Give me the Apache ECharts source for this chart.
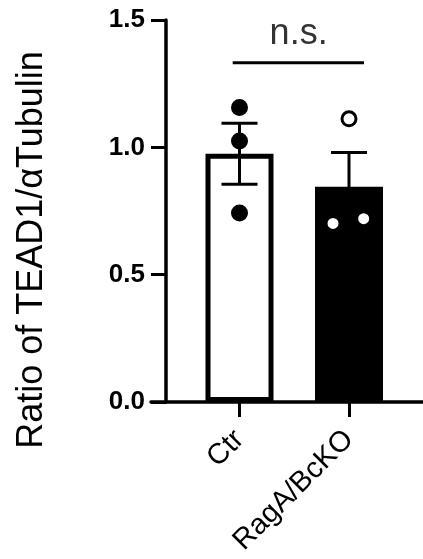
<!DOCTYPE html>
<html>
<head>
<meta charset="utf-8">
<script src="https://cdn.jsdelivr.net/npm/echarts@6/dist/echarts.min.js"></script>
<style>html,body{margin:0;padding:0;background:#fff}#c{width:423px;height:559px}</style>
</head>
<body>
<div id="c"></div>
<script>
// ---- data ----
const categories = ['Ctr', 'RagA/BcKO'];
const barMeans = [0.975, 0.845];
const barSems = [0.12, 0.135];
const ctrPoints = [1.156, 1.025, 0.742];
const ctrJitter = [0, 0, 0];
const koPoints = [1.112, 0.701, 0.720];
const koJitter = [0, -0.146, 0.134];
const yTicks = [0, 0.5, 1.0, 1.5];
const yLabel = 'Ratio of TEAD1/αTubulin';
const sigText = 'n.s.';
const sigLineX = [-0.062, 1.137];
const sigLineY = 1.332;
const sigTextPos = [0.54, 1.446];

const FONT = '"Liberation Sans", Arial, Helvetica, sans-serif';
const chart = echarts.init(document.getElementById('c'), null, {renderer: 'canvas'});

const ctrData = ctrPoints.map((v, i) => [0 + ctrJitter[i], v]);
const koData = koPoints.map((v, i) => [1 + koJitter[i], v]);
const errData = barMeans.map((m, i) => [i, m, barSems[i]]);

const option = {
  animation: false,
  backgroundColor: '#fff',
  grid: [
    {left: 151, right: 0, top: 20, bottom: 157},
    {left: 184.75, right: 19.25, top: 20, bottom: 157}
  ],
  xAxis: [
    {type: 'value', gridIndex: 0, min: 0, max: 1,
     axisLine: {show: true, onZero: false, lineStyle: {color: '#000', width: 3.5}},
     axisTick: {show: false}, axisLabel: {show: false}, splitLine: {show: false}},
    {type: 'category', gridIndex: 1, data: categories,
     axisLine: {show: false},
     axisTick: {show: true, alignWithLabel: true, length: 15, lineStyle: {color: '#000', width: 3}},
     axisLabel: {rotate: 45, margin: 33, fontSize: 29, fontFamily: FONT, color: '#000'},
     splitLine: {show: false}},
    {type: 'value', gridIndex: 1, min: -0.5, max: 1.5, show: false}
  ],
  yAxis: [
    {type: 'value', gridIndex: 0, min: 0, max: 1.5, interval: 0.5, offset: -15,
     axisLine: {show: true, lineStyle: {color: '#000', width: 3.5}},
     axisTick: {show: true, length: 15, lineStyle: {color: '#000', width: 3}},
     axisLabel: {margin: 21, fontSize: 26, fontWeight: 'bold', fontFamily: FONT, color: '#000',
       formatter: v => v.toFixed(1)},
     splitLine: {show: false}},
    {type: 'value', gridIndex: 1, min: 0, max: 1.5, show: false}
  ],
  graphic: [{
    type: 'text', x: 32, y: 250, rotation: Math.PI / 2,
    style: {text: yLabel, font: '36px ' + FONT, fill: '#000', textAlign: 'center', textVerticalAlign: 'middle'}
  }],
  series: [
    {type: 'bar', xAxisIndex: 1, yAxisIndex: 1, barWidth: 68, z: 2,
     data: [
       {value: barMeans[0], itemStyle: {color: '#fff', borderColor: '#000', borderWidth: 5}},
       {value: barMeans[1], itemStyle: {color: '#000', borderColor: '#000', borderWidth: 5}}
     ]},
    {type: 'custom', xAxisIndex: 2, yAxisIndex: 1, z: 3, data: errData,
     renderItem: function (params, api) {
       const x = api.value(0), m = api.value(1), s = api.value(2);
       const top = api.coord([x, m + s]);
       const bot = api.coord([x, m - s]);
       const hw = 18;
       const st = {stroke: '#000', lineWidth: 3};
       return {type: 'group', children: [
         {type: 'line', shape: {x1: top[0], y1: top[1], x2: bot[0], y2: bot[1]}, style: st},
         {type: 'line', shape: {x1: top[0] - hw, y1: top[1], x2: top[0] + hw, y2: top[1]}, style: st},
         {type: 'line', shape: {x1: bot[0] - hw, y1: bot[1], x2: bot[0] + hw, y2: bot[1]}, style: st}
       ]};
     }},
    {type: 'scatter', xAxisIndex: 2, yAxisIndex: 1, z: 4, symbol: 'circle', symbolSize: 14,
     itemStyle: {color: '#000', borderColor: '#000', borderWidth: 3, opacity: 1}, data: ctrData},
    {type: 'scatter', xAxisIndex: 2, yAxisIndex: 1, z: 4, symbol: 'circle', symbolSize: 14,
     itemStyle: {color: '#fff', borderColor: '#000', borderWidth: 3, opacity: 1}, data: koData},
    {type: 'line', xAxisIndex: 2, yAxisIndex: 1, z: 4, symbol: 'none',
     lineStyle: {color: '#000', width: 3},
     data: [[sigLineX[0], sigLineY], [sigLineX[1], sigLineY]]},
    {type: 'scatter', xAxisIndex: 2, yAxisIndex: 1, z: 4, symbolSize: 0, silent: true,
     data: [sigTextPos],
     label: {show: true, position: 'inside', formatter: sigText, fontSize: 36, fontFamily: FONT,
       color: '#000', align: 'center', verticalAlign: 'middle'}}
  ]
};
chart.setOption(option);
</script>
</body>
</html>
